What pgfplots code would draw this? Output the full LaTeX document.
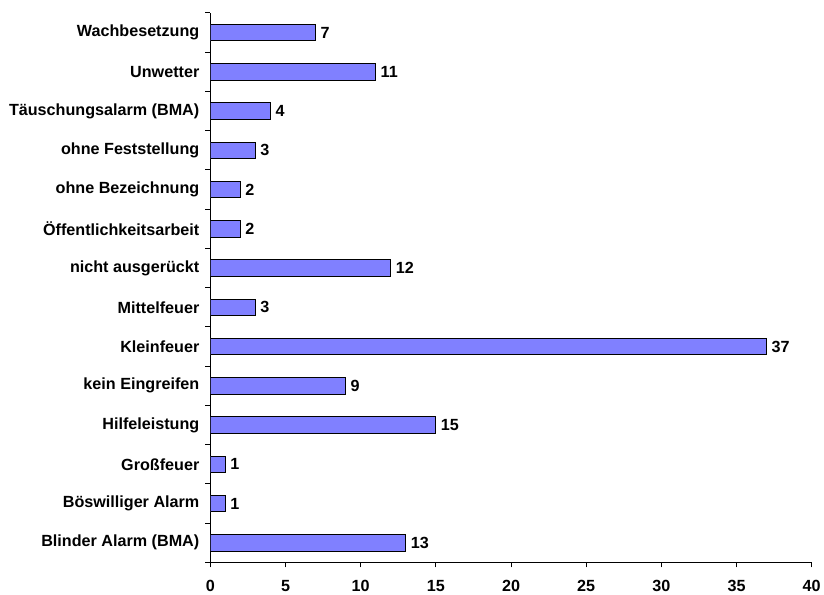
\documentclass[border=0pt]{standalone}
\usepackage{pgfplots}
\pgfplotsset{compat=1.18}
\usepackage{fontspec}
\setmainfont{Liberation Sans}
\definecolor{barblue}{RGB}{128,128,255}
\newcommand{\lblfont}{\fontsize{16.2}{18}\selectfont\bfseries}
\begin{document}
\begin{tikzpicture}
\begin{axis}[
  scale only axis, width=603pt, height=551pt,
  xbar, bar width=0.42,
  xmin=0, xmax=40, ymin=-0.5, ymax=13.5,
  axis x line*=bottom, axis y line*=left,
  axis line style={line width=1pt},
  xtick={0,5,...,40},
  ytick={0,...,13},
  yticklabels={Blinder Alarm (BMA),Böswilliger Alarm,Großfeuer,Hilfeleistung,kein Eingreifen,Kleinfeuer,Mittelfeuer,nicht ausgerückt,Öffentlichkeitsarbeit,ohne Bezeichnung,ohne Feststellung,Täuschungsalarm (BMA),Unwetter,Wachbesetzung},
  minor ytick={-0.5,0.5,...,13.5},
  every major y tick/.style={draw=none},
  tick align=outside,
  major tick length=5pt, minor tick length=5pt,
  tick style={black, line width=1pt},
  /pgf/number format/assume math mode=true,
  ticklabel style={font=\lblfont},
  yticklabel style={xshift=-2.6pt},
  xticklabel style={yshift=-9pt},
  nodes near coords,
  nodes near coords style={font=\lblfont, anchor=west, inner sep=4.5pt},
]
\addplot[fill=barblue, draw=black, line width=1pt] coordinates {
(13,0) (1,1) (1,2) (15,3) (9,4) (37,5) (3,6) (12,7) (2,8) (2,9) (3,10) (4,11) (11,12) (7,13)
};
\end{axis}
\path (current axis.north west) ++(-211pt,13pt);
\end{tikzpicture}
\end{document}
